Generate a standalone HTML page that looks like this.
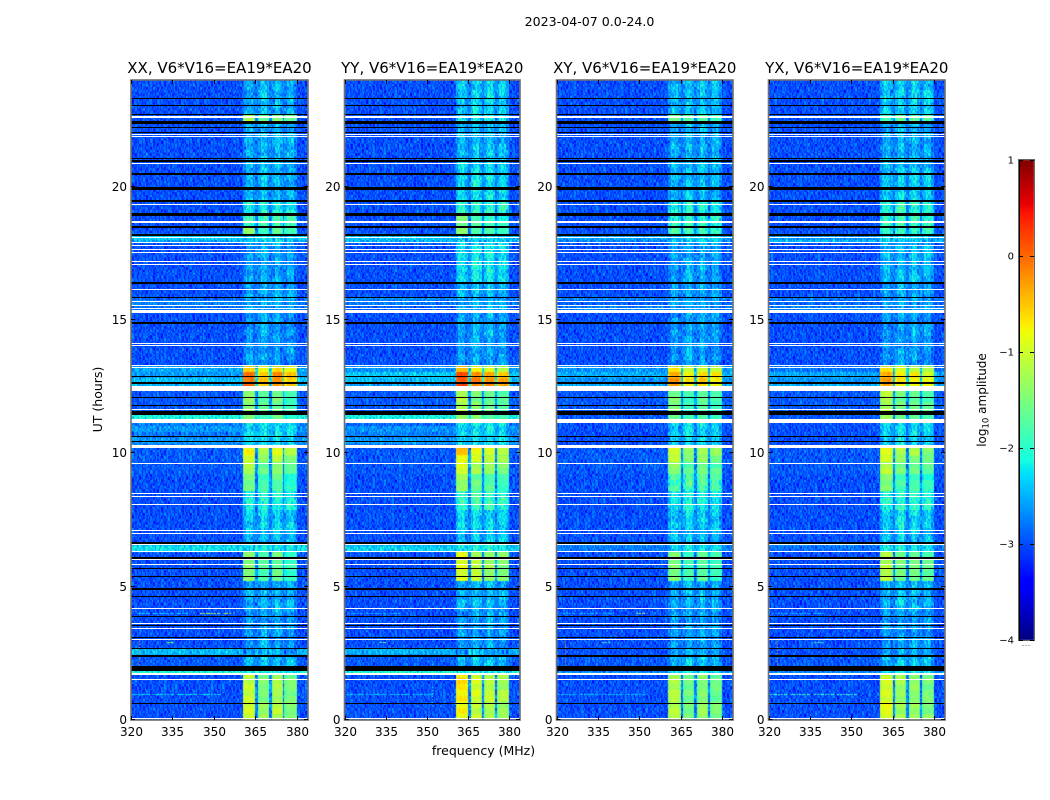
<!DOCTYPE html>
<html lang="en">
<head>
<meta charset="utf-8">
<title>2023-04-07 spectrogram panels</title>
<style>
html,body{margin:0;padding:0;background:#fff;width:1050px;height:800px;overflow:hidden}
#stage{position:relative;width:1050px;height:800px}
canvas,svg{position:absolute;left:0;top:0}
text{font-family:"DejaVu Sans","Liberation Sans",sans-serif;fill:#000}
</style>
</head>
<body>
<div id="stage">
<canvas id="heat" width="1050" height="800"></canvas>
<svg id="overlay" width="1050" height="800" viewBox="0 0 1050 800" xmlns="http://www.w3.org/2000/svg"></svg>
</div>
<script>
/* ---------- chart data (hours, MHz, log10 amplitude) ---------- */
const figureTitle = "2023-04-07 0.0-24.0";
const panelNames = ["XX", "YY", "XY", "YX"];
const panelSuffix = ", V6*V16=EA19*EA20";
const freqTicks = [320, 335, 350, 365, 380];
const hourTicks = [0, 5, 10, 15, 20];
const colorbarTicks = [-4, -3, -2, -1, 0, 1];

/* time bands, listed from the top of the plot downward */
const bandTopHours = [24, 22.73, 22.39, 21.08, 20.48, 19.47, 18.98, 18.5, 18.2, 17.9, 16.4, 15.84, 15.3, 13.29, 13.02, 12.35, 11.49, 11.15, 10.29, 9.95, 9.65, 9.2, 8.6, 7.85, 7.14, 6.65, 6.3, 5.23, 4.1, 2.67, 2.42, 1.93, 1.72, 0.73];
const backgroundParallel = [-3.0, -3.0, -3.0, -3.0, -3.0, -3.0, -3.0, -3.0, -2.5, -3.0, -3.0, -2.8, -3.0, -2.6, -2.5, -2.95, -2.2, -2.75, -2.95, -2.95, -2.95, -3.0, -3.0, -3.0, -3.0, -2.4, -3.0, -3.0, -3.0, -2.55, -2.95, -2.15, -3.0, -3.0];
const backgroundCross = [-3.0, -3.0, -3.0, -3.0, -3.0, -3.0, -3.0, -3.0, -2.6, -3.0, -3.0, -2.85, -3.0, -2.65, -2.65, -2.95, -2.95, -3.0, -2.95, -2.95, -2.95, -3.0, -3.0, -3.0, -3.0, -2.8, -3.0, -3.0, -3.0, -3.0, -2.95, -2.7, -3.0, -3.0];
const bandBackgrounds = [backgroundParallel, backgroundParallel, backgroundCross, backgroundCross];
const bandLevelXX = [-2.45, -1.3, -2.45, -2.4, -2.4, -2.1, -1.85, -1.5, -2.3, -2.5, -2.5, -2.5, -2.55, -0.55, -0.15, -1.45, -1.5, -2.2, -0.85, -1.05, -1.3, -1.6, -2.0, -2.3, -2.4, -2.2, -1.5, -2.45, -2.55, -2.5, -2.35, -2.1, -1.15, -1.05];
const bandLevelYY = [-2.3, -2.1, -2.4, -2.25, -2.2, -1.95, -1.65, -1.6, -2.3, -2.15, -2.4, -2.5, -2.5, -0.7, 0.0, -1.35, -1.4, -2.2, -0.65, -0.9, -1.1, -1.5, -1.85, -2.25, -2.35, -2.1, -1.05, -2.4, -2.55, -2.5, -2.35, -2.1, -0.85, -0.95];
const bandLevelXY = [-2.4, -1.55, -2.45, -2.4, -2.4, -2.05, -1.95, -1.75, -2.3, -2.5, -2.5, -2.5, -2.55, -0.75, -0.35, -1.55, -1.6, -2.25, -1.0, -1.2, -1.4, -1.75, -2.1, -2.3, -2.4, -2.2, -1.55, -2.45, -2.55, -2.5, -2.35, -2.1, -1.25, -1.2];
const bandLevelYX = [-2.3, -1.75, -2.45, -2.35, -2.3, -1.95, -1.85, -1.85, -2.3, -2.4, -2.5, -2.5, -2.55, -0.8, -0.45, -1.35, -1.4, -2.25, -0.95, -1.15, -1.3, -1.6, -1.95, -2.25, -2.35, -2.15, -1.3, -2.4, -2.55, -2.5, -2.35, -2.1, -1.1, -1.05];
const bandLevels = [bandLevelXX, bandLevelYY, bandLevelXY, bandLevelYX];

/* the four strong sub-bands in MHz and their brightness per panel */
const blockStartMHz = [360.6, 365.8, 371.0, 375.7];
const blockEndMHz = [365.1, 370.2, 375.0, 379.9];
const blockOffsetXX = [0.08, -0.3, -0.1, -0.4];
const blockOffsetYY = [0.15, -0.1, -0.25, -0.4];
const blockOffsetXY = [0.05, -0.3, -0.15, -0.35];
const blockOffsetYX = [0.15, -0.2, -0.25, -0.4];
const blockOffsets = [blockOffsetXX, blockOffsetYY, blockOffsetXY, blockOffsetYX];
const dimBlockOffset = [-0.05, 0.05, 0.05, -0.05];

/* flagged rows: [centre hour, duration in hours] */
const blackFlags = [[23.32,.03],[23.03,.03],[22.72,.03],[22.41,.1],[22.24,.03],[22.02,.03],[21.07,.03],[21.0,.03],[20.94,.03],[20.47,.1],[19.93,.1],[19.45,.07],[18.96,.1],[18.49,.07],[18.19,.07],[16.4,.08],[15.85,.03],[14.89,.06],[12.9,.03],[12.64,.05],[12.1,.03],[11.81,.03],[11.51,.13],[10.64,.03],[10.45,.03],[6.63,.08],[6.08,.05],[5.67,.03],[5.37,.03],[4.9,.08],[4.63,.03],[3.88,.03],[3.54,.03],[3.1,.03],[2.67,.03],[2.39,.07],[1.94,.17],[0.64,.03]];
const whiteFlags = [[22.61,.1],[21.97,.03],[21.87,.03],[20.88,.03],[19.35,.03],[18.67,.06],[18.08,.03],[17.91,.03],[17.81,.03],[17.66,.03],[17.53,.03],[17.2,.03],[17.1,.03],[16.14,.03],[15.69,.03],[15.56,.03],[15.45,.03],[15.32,.08],[14.14,.03],[14.03,.03],[13.29,.03],[13.21,.03],[12.44,.19],[11.66,.03],[11.21,.13],[10.26,.1],[9.64,.03],[8.48,.03],[8.39,.03],[8.1,.03],[7.11,.03],[6.98,.03],[6.57,.05],[6.34,.03],[6.03,.03],[5.84,.03],[4.17,.03],[3.63,.03],[3.44,.03],[3.02,.03],[1.72,.1],[1.51,.03],[0.07,.03]];

/* isolated interference: [panel, hour, start MHz, end MHz, level] */
const rfiStreaks = [
 [0,4.02,322,340,-2.3],[0,4.02,344,356,-1.1],[0,0.98,320,353,-2.2],[0,2.93,333,336,-1.2],
 [1,4.02,322,340,-2.4],[1,0.98,320,353,-2.3],[1,2.93,333,336,-1.6],
 [2,4.02,322,340,-2.4],[2,4.02,349,352,-1.3],[2,0.98,320,353,-2.3],[2,2.93,336,339,-1.8],
 [3,4.02,322,340,-2.4],[3,0.98,320,353,-2.0],[3,2.93,336,339,-1.8]
];
/* vertical dotted interference: [panel, MHz, top hour, bottom hour, level] */
const rfiColumns = [
 [0,323,2.95,2.05,-0.4],[1,352,2.2,0.5,-2.0],[1,352,20.0,15.5,-2.5],
 [2,323,2.95,2.05,-0.2],[2,342,3.6,3.1,0.2],[3,323,2.95,2.05,-0.3],[3,342,3.9,3.3,0.2]
];

/* hand-typed speckle estimate, in log10 units, tiled over the cells */
const speckle = [
 [ .12,-.31, .24,-.08, .33,-.19, .05,-.27, .17, .29,-.14,-.36, .21, .02,-.23, .38,-.11],
 [-.22, .09,-.35, .28,-.04, .19,-.29, .36,-.13, .07,-.26, .31,-.17, .14, .26,-.38, .03],
 [ .34,-.16, .06,-.28, .23,-.37, .15,-.02, .30,-.21, .11, .25,-.33, .08,-.12, .20,-.30],
 [-.07, .27,-.24, .13,-.39, .10, .32,-.18, .01,-.34, .22,-.09, .35,-.25, .16,-.03, .28],
 [ .18,-.12, .37,-.30, .04, .26,-.20, .11,-.36, .24,-.06, .16,-.27, .33,-.15, .09,-.32],
 [-.33, .22,-.05, .17,-.26, .35,-.10, .29,-.23, .03, .31,-.38, .12,-.01, .25,-.19, .07],
 [ .06,-.28, .30,-.15, .20,-.02,-.34, .14, .27,-.11, .38,-.24, .00, .19,-.31, .23,-.08],
 [ .25, .10,-.20, .36,-.32, .08, .21,-.25, .04, .16,-.35, .13, .28,-.17, .34,-.06,-.29],
 [-.14, .33,-.01,-.23, .15,-.37, .26, .07,-.30, .39,-.09, .18,-.21, .05,-.28, .11, .24],
 [ .29,-.18, .11, .02,-.27, .32,-.07,-.33, .20,-.16, .24,-.02,-.36, .27, .09,-.22, .14],
 [-.03, .16,-.38, .25, .09,-.13, .34,-.22, .12,-.29, .06, .37,-.10,-.26, .18, .31,-.35],
 [ .21,-.25, .08, .31,-.17, .01,-.31, .19,-.04, .28,-.39, .10, .23,-.12, .00,-.20, .35],
 [-.36, .03, .26,-.11, .38,-.24, .13,-.16, .33,-.05, .17,-.28, .07, .30,-.34, .22,-.09]
];

const freqMin = 320, freqMax = 384, hourMin = 0, hourMax = 24;
const channelCount = 128, rowCount = 427;
const colorMin = -4, colorMax = 1;

/* ---------- geometry and scales ---------- */
const panelLeft = [131, 344.5, 556.5, 768.5];
const panelRight = [308, 520, 733, 945];
const plotTop = 80, plotBottom = 720;
const cbLeft = 1019, cbRight = 1034, cbTop = 160, cbBottom = 640;

function xScale(p, f) { return panelLeft[p] + (f - freqMin) / (freqMax - freqMin) * (panelRight[p] - panelLeft[p]); }
function yScale(h) { return plotBottom - (h - hourMin) / (hourMax - hourMin) * (plotBottom - plotTop); }
function cbScale(v) { return cbBottom - (v - colorMin) / (colorMax - colorMin) * (cbBottom - cbTop); }

function lerpStops(stops, t) {
  for (let i = 1; i < stops.length; i++) {
    if (t <= stops[i][0]) {
      const a = stops[i - 1], b = stops[i];
      return a[1] + (b[1] - a[1]) * (t - a[0]) / (b[0] - a[0]);
    }
  }
  return stops[stops.length - 1][1];
}
const jetR = [[0,0],[.35,0],[.66,1],[.89,1],[1,.5]];
const jetG = [[0,0],[.125,0],[.375,1],[.64,1],[.91,0],[1,0]];
const jetB = [[0,.5],[.11,1],[.34,1],[.65,0],[1,0]];
function jet(v) {
  const t = Math.max(0, Math.min(1, (v - colorMin) / (colorMax - colorMin)));
  const r = Math.round(lerpStops(jetR, t) * 255);
  const g = Math.round(lerpStops(jetG, t) * 255);
  const b = Math.round(lerpStops(jetB, t) * 255);
  return "rgb(" + r + "," + g + "," + b + ")";
}

function bandIndex(h) {
  for (let i = bandTopHours.length - 1; i >= 0; i--) {
    if (h < bandTopHours[i]) return i;
  }
  return 0;
}

/* ---------- heatmap cells ---------- */
const ctx = document.getElementById("heat").getContext("2d");
ctx.fillStyle = "#fff";
ctx.fillRect(0, 0, 1050, 800);

function cellLevel(p, row, col, f, h) {
  const band = bandIndex(h);
  const bg = bandBackgrounds[p][band];
  const coarseRow = Math.floor(row / 2);
  const coarseCol = Math.floor(col / 2);
  const stripeRow = speckle[(Math.floor(row / 4) + p * 2) % speckle.length];
  let value = bg;
  let gain = 1;
  if (bg > -2.9) value += 0.4 * stripeRow[0];
  for (let b = 0; b < blockStartMHz.length; b++) {
    if (f >= blockStartMHz[b] && f < blockEndMHz[b]) {
      const base = bandLevels[p][band];
      const dim = base < -1.7;
      const level = base + (dim ? dimBlockOffset[b] : blockOffsets[p][b]);
      const edge = Math.min(f - blockStartMHz[b], blockEndMHz[b] - f);
      value = level - (dim ? (edge < 1 ? 0.25 : 0) : (edge < 0.6 ? 0.15 : 0));
      value += 0.3 * stripeRow[b * 3 + 1];
      gain = dim ? 1 : 0.35;
    }
  }
  if (f >= 365.1 && f < 365.8 || f >= 370.2 && f < 371 || f >= 375 && f < 375.7) {
    value = bg + 0.25;
  }
  const fineTile = speckle[(row + p * 3) % speckle.length];
  const coarseTile = speckle[(coarseRow + p * 5) % speckle.length];
  const fine = fineTile[(col + row * 7 + p * 7) % fineTile.length];
  const coarse = coarseTile[(coarseCol + coarseRow * 5 + p) % coarseTile.length];
  return value + gain * (0.85 * fine + 0.35 * coarse);
}

for (let p = 0; p < panelNames.length; p++) {
  const df = (freqMax - freqMin) / channelCount;
  const dh = (hourMax - hourMin) / rowCount;
  for (let r = 0; r < rowCount; r++) {
    const h = hourMin + r * dh;
    const yA = Math.round(yScale(h + dh)), yB = Math.round(yScale(h));
    for (let c = 0; c < channelCount; c++) {
      const f = freqMin + c * df;
      const xA = Math.round(xScale(p, f)), xB = Math.round(xScale(p, f + df));
      ctx.fillStyle = jet(cellLevel(p, r, c, f + df / 2, h + dh / 2));
      ctx.fillRect(xA, yA, xB - xA, yB - yA);
    }
  }
  rfiStreaks.forEach(function (s) {
    if (s[0] !== p) return;
    for (let f = s[2]; f < s[3]; f += df) {
      if (speckle[3][Math.round(f / df) % 17] < 0.05) continue;
      ctx.fillStyle = jet(s[4]);
      ctx.fillRect(Math.round(xScale(p, f)), Math.round(yScale(s[1])), 2, 1);
    }
  });
  rfiColumns.forEach(function (s) {
    if (s[0] !== p) return;
    for (let h = s[2]; h > s[3]; h -= dh) {
      if (speckle[5][Math.round(h / dh) % 17] < 0.05) continue;
      ctx.fillStyle = jet(s[4]);
      ctx.fillRect(Math.round(xScale(p, s[1])), Math.round(yScale(h)), 1, 1);
    }
  });
}

/* ---------- colorbar ---------- */
for (let y = cbTop; y < cbBottom; y++) {
  ctx.fillStyle = jet(colorMax - (y + 0.5 - cbTop) / (cbBottom - cbTop) * (colorMax - colorMin));
  ctx.fillRect(cbLeft, y, cbRight - cbLeft, 1);
}

/* ---------- overlay ---------- */
const NS = "http://www.w3.org/2000/svg";
const svg = document.getElementById("overlay");
function make(tag, attrs, parent) {
  const el = document.createElementNS(NS, tag);
  for (const k in attrs) el.setAttribute(k, attrs[k]);
  (parent || svg).appendChild(el);
  return el;
}
function minusText(v) { return String(v).replace("-", "\u2212"); }

panelNames.forEach(function (name, p) {
  const L = panelLeft[p], R = panelRight[p];
  const g = make("g", {});
  
  

  blackFlags.concat(whiteFlags).forEach(function (flag, i) {
    const isBlack = i < blackFlags.length;
    const y0 = Math.round(yScale(flag[0] + flag[1] / 2));
    const y1 = Math.round(yScale(flag[0] - flag[1] / 2));
    const rect = make("rect", { x: L, y: y0, width: R - L, height: Math.max(1, y1 - y0), fill: isBlack ? "#000" : "#fff" }, g);
    
    
  });

  const frame = make("rect", { x: L, y: plotTop, width: R - L, height: plotBottom - plotTop, fill: "none", stroke: "#6f6f6f", "stroke-width": 1.6 }, g);
  
  

  freqTicks.forEach(function (f) {
    const x = Math.round(xScale(p, f)) + 0.5;
    const tickB = make("line", { x1: x, x2: x, y1: plotBottom, y2: plotBottom - 4, stroke: "#000", "stroke-width": 1 }, g);
    
    
    const tickT = make("line", { x1: x, x2: x, y1: plotTop, y2: plotTop + 4, stroke: "#000", "stroke-width": 1 }, g);
    
    
    const label = make("text", { x: x, y: 736, "text-anchor": "middle", "font-size": 12 }, g);
    
    
    label.textContent = f;
  });

  hourTicks.forEach(function (h) {
    const y = Math.round(yScale(h)) - 0.5;
    const tickL = make("line", { x1: L, x2: L + 4, y1: y, y2: y, stroke: "#000", "stroke-width": 1 }, g);
    
    
    const tickR = make("line", { x1: R, x2: R - 4, y1: y, y2: y, stroke: "#000", "stroke-width": 1 }, g);
    
    
    const label = make("text", { x: L - 4, y: y + 4.5, "text-anchor": "end", "font-size": 12 }, g);
    
    
    label.textContent = h;
  });

  const title = make("text", { x: (L + R) / 2, y: 73, "text-anchor": "middle", "font-size": 15 }, g);
  
  
  title.textContent = name + panelSuffix;
});

const supTitle = make("text", { x: 589.5, y: 26, "text-anchor": "middle", "font-size": 12.6 });


supTitle.textContent = figureTitle;

const xTitle = make("text", { x: 483.5, y: 755, "text-anchor": "middle", "font-size": 12.5 });


xTitle.textContent = "frequency (MHz)";

const yTitle = make("text", { x: 0, y: 0, "text-anchor": "middle", "font-size": 12.5, transform: "translate(102,399.5) rotate(-90)" });


yTitle.textContent = "UT (hours)";

/* colorbar chrome */
const cbGroup = make("g", {});


const cbFrame = make("rect", { x: cbLeft - 0.5, y: cbTop - 0.5, width: cbRight - cbLeft + 1, height: cbBottom - cbTop + 1, fill: "none", stroke: "#666", "stroke-width": 1 }, cbGroup);


const cbEdge = make("line", { x1: cbLeft + 0.5, x2: cbLeft + 0.5, y1: cbTop, y2: cbBottom, stroke: "#000", "stroke-width": 1 }, cbGroup);



colorbarTicks.forEach(function (v) {
  const y = Math.round(cbScale(v));
  const tickA = make("line", { x1: cbLeft, x2: cbLeft + 4, y1: y + 0.5, y2: y + 0.5, stroke: "#000", "stroke-width": 1 }, cbGroup);
  
  
  const tickB = make("line", { x1: cbRight - 4, x2: cbRight, y1: y + 0.5, y2: y + 0.5, stroke: "#000", "stroke-width": 1 }, cbGroup);
  
  
  const label = make("text", { x: 1014, y: y + 3.5, "text-anchor": "end", "font-size": 10 }, cbGroup);
  
  
  label.textContent = minusText(v);
});

const cbTitle = make("text", { x: 0, y: 0, "text-anchor": "middle", "font-size": 12, transform: "translate(986,400) rotate(-90)" });


cbTitle.appendChild(document.createTextNode("log"));
const cbSub = make("tspan", { "font-size": 8.5, dy: 2.5 }, cbTitle);
cbSub.textContent = "10";
const cbTail = make("tspan", { dy: -2.5 }, cbTitle);
cbTail.textContent = " amplitude";

const cbDots = make("text", { x: 1026, y: 646, "text-anchor": "middle", "font-size": 5, fill: "#555" }, cbGroup);


cbDots.textContent = "......";
</script>
</body>
</html>
